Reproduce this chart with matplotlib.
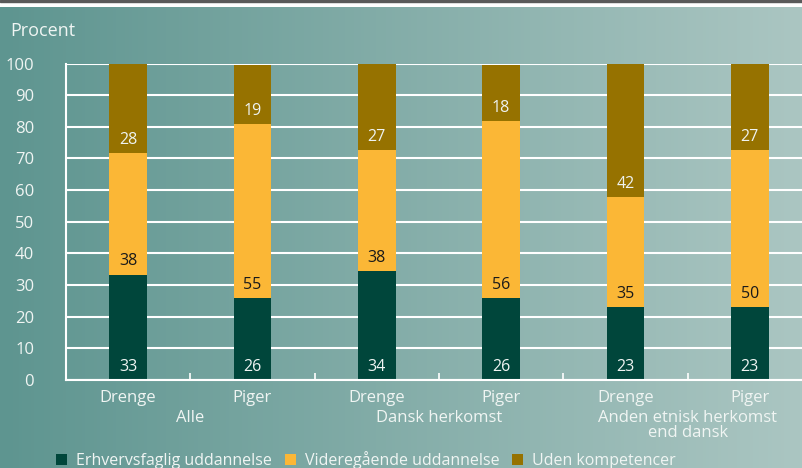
import matplotlib
matplotlib.use("Agg")
import matplotlib.pyplot as plt
import numpy as np
from matplotlib.patches import Patch, Rectangle

plt.rcParams['font.family'] = ['Open Sans', 'DejaVu Sans']

bars = ["Drenge", "Piger", "Drenge", "Piger", "Drenge", "Piger"]
groups = ["Alle", "Dansk herkomst", "Anden etnisk herkomst\nend dansk"]
series = ["Erhvervsfaglig uddannelse", "Videregående uddannelse", "Uden kompetencer"]
erhverv = [33.3, 25.9, 34.4, 26.0, 23.0, 23.0]
videre = [38.4, 55.0, 38.3, 55.8, 34.8, 49.7]
uden = [28.3, 18.6, 27.3, 17.7, 42.2, 27.3]
colors = ["#00463b", "#fbb736", "#967200"]
label_colors = ["#eef3f1", "#1a1a1a", "#eef3f1"]

W, H = 803, 468
fig = plt.figure(figsize=(W/100, H/100), dpi=100)

# background gradient
bg = fig.add_axes([0, 0, 1, 1 - 7/H], zorder=-10)
grad = np.linspace(0, 1, 256)
c0 = np.array([0x5e, 0x95, 0x90]) / 255
c1 = np.array([0xab, 0xc6, 0xc2]) / 255
img = (c0[None, :] * (1 - grad[:, None]) + c1[None, :] * grad[:, None])[None, :, :]
bg.imshow(img, aspect='auto', extent=[0, 1, 0, 1])
bg.set_axis_off()
fig.add_artist(Rectangle((0, 1 - 2/H), 1, 2/H, transform=fig.transFigure, color="#5a5a5a", zorder=-5))

left = 66 / W
right = 812 / W
bottom = 1 - 380 / H
top = 1 - 63.5 / H
ax = fig.add_axes([left, bottom, right - left, top - bottom])
ax.set_facecolor('none')

txt = '#f0f5f3'
x = np.arange(len(bars))
w = 0.305
vals = [erhverv, videre, uden]
base = np.zeros(len(bars))
for i, (v, c) in enumerate(zip(vals, colors)):
    v = np.array(v)
    ax.bar(x, v, w, bottom=base, color=c, zorder=3)
    for xi, b, val in zip(x, base, v):
        ax.annotate(f"{round(val)}", (xi, b), xytext=(0, 9.5), textcoords='offset points',
                    ha='center', va='center', fontsize=11.5,
                    color=label_colors[i] if i != 0 else txt, zorder=4)
    base = base + v

ax.set_xlim(-0.5, 5.5)
ax.set_ylim(0, 100)
ax.set_yticks(range(0, 101, 10))
ax.tick_params(axis='y', length=0, pad=23, labelsize=12, labelcolor=txt)
ax.set_xticks(np.arange(0.5, 5, 1))
ax.set_xticklabels([])
ax.tick_params(axis='x', direction='in', length=5, width=1.2, color='white')
ax.grid(axis='y', color='white', linewidth=1.5, zorder=0)
for s in ['top', 'right']:
    ax.spines[s].set_visible(False)
for s in ['left', 'bottom']:
    ax.spines[s].set_color('white')
    ax.spines[s].set_linewidth(1.5)
ax.spines['bottom'].set_zorder(5)

trans = ax.get_xaxis_transform()
for xi, lab in zip(x, bars):
    fig.text(0, 0, "")
    ax.annotate(lab, (xi, 0), xytext=(0, -18), textcoords='offset pixels', xycoords=trans,
                ha='center', va='center', fontsize=12, color=txt, annotation_clip=False)
for gi, g in enumerate(groups):
    ax.annotate(g, (2 * gi + 0.5, 0), xytext=(0, -30), textcoords='offset pixels', xycoords=trans,
                ha='center', va='top', fontsize=12, color=txt, linespacing=0.95,
                annotation_clip=False)

fig.text(10 / W, 1 - 31 / H, "Procent", ha='left', va='center', fontsize=13, color=txt)

handles = [Patch(facecolor=c, edgecolor='none') for c in colors]
leg = fig.legend(handles, series, loc='center left', bbox_to_anchor=(56 / W, 1 - 460 / H),
                 ncol=3, frameon=False, fontsize=11.5, handlelength=0.7, handleheight=0.7,
                 handletextpad=0.55, columnspacing=0.8, borderpad=0, borderaxespad=0)
for t in leg.get_texts():
    t.set_color(txt)

fig.savefig("out.png", dpi=100)
